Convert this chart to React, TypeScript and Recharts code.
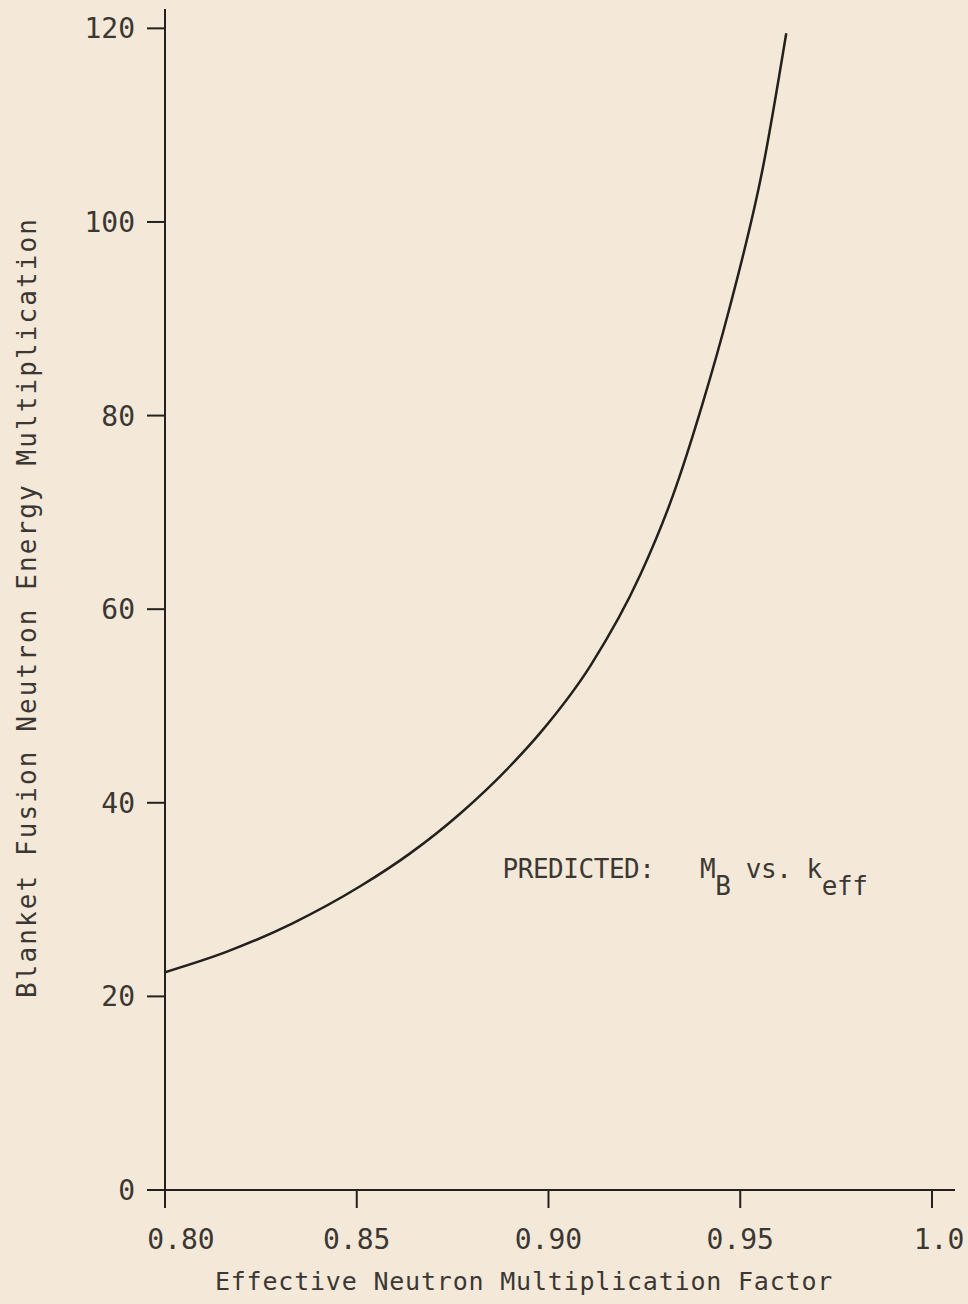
import { LineChart, Line, XAxis, YAxis, ReferenceDot } from "recharts";

// values
const kEff = [
  0.8, 0.816, 0.833, 0.851, 0.864, 0.877, 0.89, 0.898, 0.911, 0.924, 0.9325,
  0.94, 0.947, 0.956, 0.962,
];
const mB = [
  22.5, 24.6, 27.5, 31.4, 34.8, 38.9, 43.8, 47.3, 54.2, 63.6, 71.8, 81.0, 90.8,
  105.8, 119.5,
];
const xTicks = [0.8, 0.85, 0.9, 0.95, 1.0];
const yTicks = [0, 20, 40, 60, 80, 100, 120];

const data = kEff.map((k, i) => ({ k, m: mB[i] }));

const FONT = "'DejaVu Sans Mono', monospace";
const INK = "#24201d";
const TEXT = "#3b3733";
const BG = "#f4e9d9";

const fmtX = (v: number) => (v === 1 ? "1.0" : v.toFixed(2));

function XTick({ x, y, payload }: any) {
  const v = payload.value;
  const dx = v === 0.8 ? 16 : v === 1 ? 7 : 0;
  return (
    <text
      x={x + dx}
      y={y}
      dy="0.71em"
      textAnchor="middle"
      fill={TEXT}
      fontSize={28}
      fontFamily={FONT}
    >
      {fmtX(v)}
    </text>
  );
}

function XTitle({ viewBox }: any) {
  return (
    <text
      x={viewBox.x + 359}
      y={viewBox.y + 100}
      textAnchor="middle"
      fill={TEXT}
      fontSize={25}
      letterSpacing={0.8}
      fontFamily={FONT}
    >
      Effective Neutron Multiplication Factor
    </text>
  );
}

function YTitle({ viewBox }: any) {
  const cx = 36;
  const cy = viewBox.y + viewBox.height / 2 + 8;
  return (
    <text
      x={cx}
      y={cy}
      transform={`rotate(-90 ${cx} ${cy})`}
      textAnchor="middle"
      fill={TEXT}
      fontSize={26}
      letterSpacing={2.1}
      fontFamily={FONT}
    >
      Blanket Fusion Neutron Energy Multiplication
    </text>
  );
}

function Note({ viewBox }: any) {
  return (
    <text
      x={viewBox.x}
      y={viewBox.y}
      fill={TEXT}
      fontSize={26}
      letterSpacing={-0.45}
      fontFamily={FONT}
      style={{ whiteSpace: "pre" }}
    >
      {"PREDICTED:   M"}
      <tspan dy={17}>B</tspan>
      <tspan dy={-17}>{" vs. k"}</tspan>
      <tspan dy={17}>eff</tspan>
    </text>
  );
}

export default function App() {
  return (
    <div
      style={{
        position: "absolute",
        left: 0,
        top: 0,
        width: 968,
        height: 1304,
        background: BG,
      }}
    >
      <LineChart
        width={968}
        height={1304}
        data={data}
        margin={{ top: 9, right: 13, bottom: 14, left: 0 }}
      >
        <XAxis
          dataKey="k"
          type="number"
          domain={[0.8, 1.006]}
          ticks={xTicks}
          allowDataOverflow
          height={100}
          tickSize={18}
          tickMargin={21}
          axisLine={{ stroke: INK, strokeWidth: 2 }}
          tickLine={{ stroke: INK, strokeWidth: 2 }}
          tick={<XTick />}
          label={{ content: XTitle }}
        />
        <YAxis
          type="number"
          domain={[0, 122]}
          ticks={yTicks}
          allowDataOverflow
          width={165}
          tickSize={18}
          tickMargin={12}
          axisLine={{ stroke: INK, strokeWidth: 2 }}
          tickLine={{ stroke: INK, strokeWidth: 2 }}
          tick={{ fill: TEXT, fontSize: 28, fontFamily: FONT }}
          label={{ content: YTitle }}
        />
        <Line
          type="monotone"
          dataKey="m"
          stroke={INK}
          strokeWidth={2.5}
          dot={false}
          isAnimationActive={false}
        />
        <ReferenceDot
          x={0.888}
          y={32.2}
          r={0}
          fill="none"
          stroke="none"
          label={{ content: Note }}
        />
      </LineChart>
    </div>
  );
}
